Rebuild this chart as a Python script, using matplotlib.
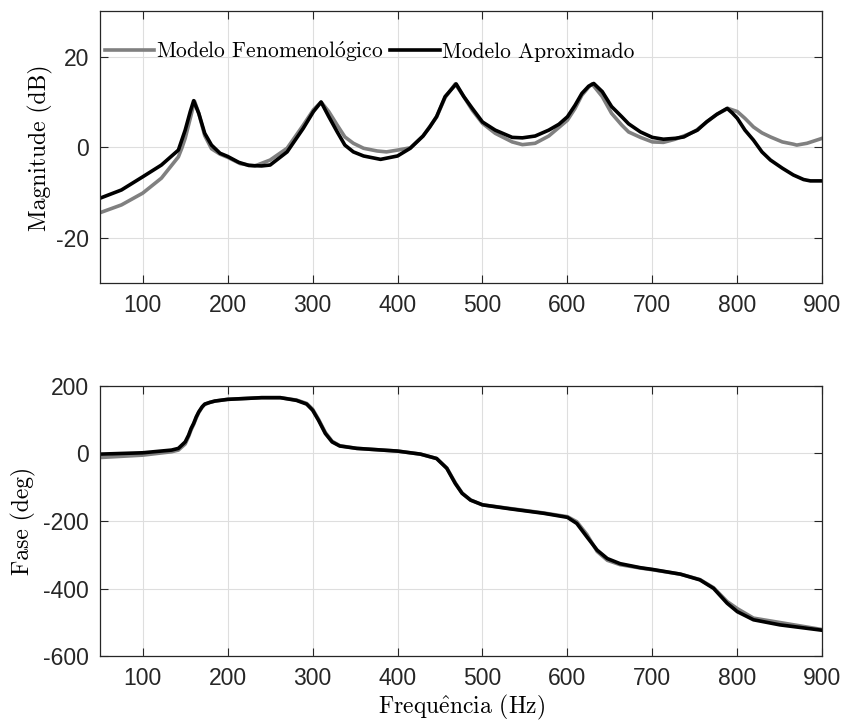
import matplotlib
matplotlib.use("Agg")
import matplotlib.pyplot as plt

plt.rcParams["font.family"] = ["Liberation Sans", "DejaVu Sans"]
plt.rcParams["axes.unicode_minus"] = False
plt.rcParams["mathtext.fontset"] = "cm"

# Magnitude (dB)
freq_mag_fen = [50, 75, 100, 122, 142, 146, 150, 156, 161, 166, 173, 181, 191, 200, 215, 232,
                250, 270, 289, 301, 310, 319, 329, 338, 348, 360, 376, 387, 400, 415, 430,
                446, 456, 468, 478, 488, 500, 515, 535, 547, 562, 578, 590, 600, 609, 617,
                625, 629, 641, 652, 664, 672, 686, 700, 713, 727, 745, 752, 764, 776, 789,
                800, 809, 819, 829, 839, 853, 866, 870, 882, 900]
mag_fen = [-14.4, -12.7, -10.1, -6.8, -2.1, -0.2, 2.0, 6.4, 10.2, 7.5, 2.6, -0.3, -1.5, -2.2, -3.6, -4.1,
           -2.8, -0.2, 4.9, 8.3, 10.0, 7.9, 4.9, 2.3, 0.9, -0.2, -0.8, -1.0, -0.6, -0.1, 2.5,
           6.7, 11.0, 14.0, 11.2, 8.2, 5.3, 3.1, 1.2, 0.6, 0.9, 2.5, 4.4, 6.0, 8.6, 11.5,
           13.3, 14.0, 11.2, 7.5, 4.9, 3.4, 2.2, 1.2, 1.1, 1.8, 3.1, 3.8, 5.6, 7.3, 8.6,
           7.9, 6.4, 4.5, 3.2, 2.3, 1.2, 0.7, 0.5, 0.9, 2.0]

freq_mag_apr = [50, 75, 100, 122, 142, 150, 156, 160, 166, 173, 181, 191, 200, 213, 225, 240,
                250, 270, 289, 301, 310, 319, 329, 338, 348, 360, 380, 400, 415, 430, 438,
                446, 456, 469, 478, 488, 500, 515, 535, 547, 562, 578, 590, 600, 609, 617,
                625, 631, 641, 652, 664, 672, 686, 700, 713, 727, 737, 745, 753, 764, 776,
                788, 794, 800, 809, 819, 829, 839, 853, 866, 878, 886, 900]
mag_apr = [-11.2, -9.4, -6.5, -3.9, -0.6, 3.8, 7.9, 10.3, 7.5, 3.1, 0.5, -1.3, -2.0, -3.3, -4.0, -4.1,
           -3.9, -1.0, 4.2, 7.9, 10.0, 6.8, 3.4, 0.5, -1.0, -1.9, -2.65, -1.9, -0.2, 2.5, 4.5,
           6.8, 11.2, 14.0, 11.2, 8.6, 5.6, 3.8, 2.2, 2.1, 2.5, 3.8, 5.1, 6.75, 9.3, 11.9,
           13.5, 14.1, 12.3, 9.0, 6.75, 5.2, 3.4, 2.2, 1.8, 2.0, 2.3, 3.1, 3.8, 5.65, 7.3,
           8.6, 7.6, 6.4, 3.8, 1.6, -1.0, -2.8, -4.6, -6.1, -7.1, -7.4, -7.4]

# Phase (deg)
freq_ph = [50, 100, 134, 142, 150, 154, 157, 160, 163, 166, 170, 173, 179, 185, 200, 240,
           262, 281, 293, 300, 307, 315, 323, 332, 352, 400, 427, 446, 458, 468, 476,
           486, 500, 533, 572, 600, 611, 623, 635, 647, 662, 686, 700, 733, 756, 772,
           788, 800, 819, 850, 900]
ph_apr = [-2, 2, 10, 15, 34, 54, 74, 89, 108, 123, 138, 146, 151, 155, 160, 165,
          165, 157, 146, 128, 98, 59, 34, 22, 15, 7, -2, -15, -44, -89, -118,
          -138, -152, -164, -177, -189, -207, -247, -286, -311, -326, -338, -343, -357, -374, -399,
          -443, -468, -492, -507, -523]
ph_fen = [-12, -5, 5, 10, 28, 50, 70, 86, 105, 121, 137, 145, 151, 155, 160, 165,
          165, 158, 148, 131, 101, 62, 36, 23, 15, 7, -2, -15, -43, -87, -117,
          -138, -152, -163, -176, -187, -202, -240, -290, -316, -329, -339, -344, -357, -373, -397,
          -438, -459, -487, -500, -521]

xticks = [100, 200, 300, 400, 500, 600, 700, 800, 900]

fig = plt.figure(figsize=(8.43, 7.22), dpi=100)
ax1 = fig.add_axes([0.1189, 0.6076, 0.8565, 0.3766])
ax2 = fig.add_axes([0.1189, 0.0910, 0.8565, 0.3746])

gray = "#808080"
serif = ["cmr10", "STIXGeneral"]
for ax in (ax1, ax2):
    ax.set_xlim(50, 900)
    ax.set_xticks(xticks)
    ax.grid(True, color="#dedede", linewidth=0.8)
    ax.set_axisbelow(True)
    ax.tick_params(direction="in", length=6, width=0.8, top=True, right=True,
                   labelsize=16.5, colors="#262626", pad=8)
    for s in ax.spines.values():
        s.set_color("#262626")
        s.set_linewidth(0.9)

ax1.plot(freq_mag_fen, mag_fen, color=gray, lw=2.6, label=r"Modelo Fenomenol$\acute{\mathrm{o}}$gico")
ax1.plot(freq_mag_apr, mag_apr, color="black", lw=2.6, label="Modelo Aproximado")
ax1.set_ylim(-30, 30)
ax1.set_yticks([-20, 0, 20])
ax1.set_ylabel("Magnitude (dB)", fontsize=17, family=serif, labelpad=2)
ax1.legend(loc="upper left", ncol=2, frameon=False, prop={"family": serif, "size": 15.5},
           handlelength=2.3, handletextpad=0.1, columnspacing=0.3, borderaxespad=0.0,
           borderpad=0.2, bbox_to_anchor=(0.0, 0.915))

ax2.plot(freq_ph, ph_fen, color=gray, lw=2.6)
ax2.plot(freq_ph, ph_apr, color="black", lw=2.6)
ax2.set_ylim(-600, 200)
ax2.set_yticks([-600, -400, -200, 0, 200])
ax2.set_ylabel("Fase (deg)", fontsize=17, family=serif, labelpad=5)
ax2.set_xlabel(r"Frequ$\hat{\mathrm{e}}$ncia (Hz)", fontsize=17, family=serif, labelpad=2)

fig.savefig("out.png", dpi=100)
